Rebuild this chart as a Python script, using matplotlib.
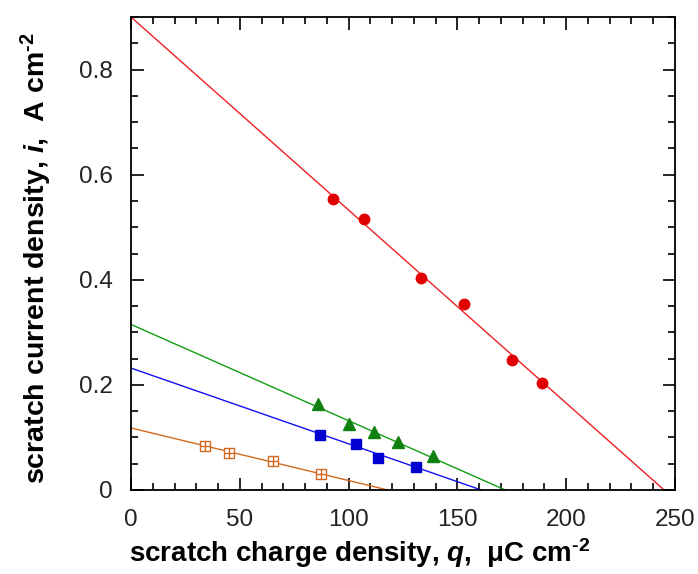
import matplotlib
matplotlib.use("Agg")
import matplotlib.pyplot as plt
from matplotlib.ticker import MultipleLocator

# Data
red_q = [92.8, 107.1, 133.3, 153.0, 175.1, 188.9]
red_i = [0.554, 0.516, 0.404, 0.354, 0.248, 0.204]
green_q = [85.9, 100.2, 111.7, 122.7, 138.8]
green_i = [0.164, 0.126, 0.110, 0.091, 0.065]
blue_q = [86.9, 103.4, 113.5, 131.0]
blue_i = [0.105, 0.088, 0.061, 0.044]
orange_q = [34.0, 45.0, 65.3, 87.3]
orange_i = [0.084, 0.070, 0.055, 0.030]

# Fit lines: (current at q=0, q at i=0)
red_fit = (0.900, 245.0)
green_fit = (0.315, 172.0)
blue_fit = (0.232, 161.0)
orange_fit = (0.118, 118.0)

y_ticks = [0, 0.2, 0.4, 0.6, 0.8]
y_ticklabels = ['0', '0.2', '0.4', '0.6', '0.8']

plt.rcParams['font.family'] = ['Liberation Sans', 'DejaVu Sans']
plt.rcParams['mathtext.fontset'] = 'custom'
plt.rcParams['mathtext.it'] = 'Liberation Sans:italic:bold'
plt.rcParams['mathtext.rm'] = 'Liberation Sans:bold'
plt.rcParams['mathtext.bf'] = 'Liberation Sans:bold'

fig = plt.figure(figsize=(6.98, 5.74), dpi=100)
ax = fig.add_axes([131/698, 1-490/574, (675-131)/698, (490-17)/574])

def fitline(fit, color):
    i0, q0 = fit
    ax.plot([0, q0], [i0, 0], color=color, lw=1.0, zorder=2)

fitline(red_fit, '#f02020')
fitline(green_fit, '#10a010')
fitline(blue_fit, '#1010f0')
fitline(orange_fit, '#d2691e')

ax.plot(red_q, red_i, 'o', color='#e00000', ms=7.5, mec='#e00000', zorder=3)
ax.plot(green_q, green_i, '^', color='#108010', ms=8, zorder=3)
ax.plot(blue_q, blue_i, 's', color='#0000d0', ms=6.5, zorder=3)
ax.plot(orange_q, orange_i, 's', mfc='white', mec='#d2691e', mew=1.0, ms=7, zorder=3)
ax.plot(orange_q, orange_i, '+', color='#d2691e', mew=1.0, ms=7, zorder=4)

ax.set_xlim(0, 250)
ax.set_ylim(0, 0.9)
ax.xaxis.set_major_locator(MultipleLocator(50))
ax.xaxis.set_minor_locator(MultipleLocator(10))
ax.yaxis.set_minor_locator(MultipleLocator(0.05))
ax.set_yticks(y_ticks)
ax.set_yticklabels(y_ticklabels)
ax.tick_params(which='both', direction='in', top=True, right=True, width=1.2,
               labelsize=17.5, colors='black', labelcolor='#222222')
ax.tick_params(which='major', length=9)
ax.tick_params(axis='x', which='major', pad=14)
ax.tick_params(axis='y', which='major', pad=13)
ax.tick_params(which='minor', length=5)
for s in ax.spines.values():
    s.set_linewidth(1.3)

ax.set_xlabel(r'scratch charge density, $q$,  μC cm$^{\text{-}2}$', fontsize=20,
              fontweight='bold', labelpad=4)
ax.xaxis.set_label_coords(0.42, -0.097)
ax.set_ylabel(r'scratch current density, $i$,  A cm$^{\text{-}2}$', fontsize=20.5,
              fontweight='bold', labelpad=16)
ax.yaxis.set_label_coords(-0.142, 0.49)

fig.savefig('out.png', dpi=100)
